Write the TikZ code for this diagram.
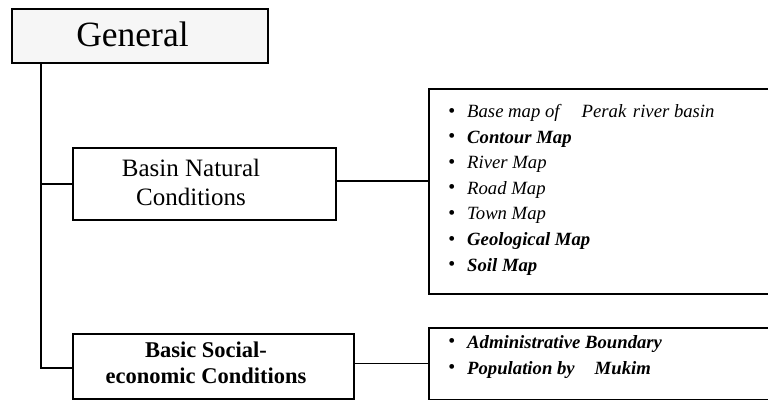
\documentclass[tikz,border=0pt]{standalone}
\usepackage{fontspec}
\setmainfont{Liberation Serif}
\newcommand{\bul}{\makebox[19pt][l]{\fontsize{20}{20}\selectfont\raisebox{0.5pt}{•}}}
\begin{document}
\begin{tikzpicture}[x=1pt,y=-1pt,
  box/.style={draw, line width=1.7pt, rectangle, inner sep=0pt, anchor=north west},
  conn/.style={line width=1.7pt},
  lbl/.style={inner sep=0pt, align=center},
  item/.style={inner sep=0pt, anchor=base west, font=\fontsize{18.7}{22}\selectfont\itshape}
]
\useasboundingbox (0,0) rectangle (768,400);
\clip (0,0) rectangle (768,400);
% boxes
\node[box, fill=gray!7, minimum width=256pt, minimum height=54pt] (general) at (11,8) {};
\node[box, minimum width=263pt, minimum height=72pt] (basin) at (72,147) {};
\node[box, minimum width=281pt, minimum height=65pt] (social) at (72,333) {};
\node[box, minimum width=370pt, minimum height=205pt] (maps) at (428,88) {};
\node[box, minimum width=370pt, minimum height=71.5pt] (pop) at (428,327) {};
% labels
\node[lbl, anchor=base, font=\fontsize{35.5}{36}\selectfont] (generalt) at (132.5,46) {General};
\node[lbl, font=\fontsize{25}{29}\selectfont] (basint) at (191,182) {Basin Natural\\Conditions};
\node[lbl, font=\bfseries\fontsize{22.5}{26}\selectfont] (socialt) at (206,362.3) {Basic Social-\\economic Conditions};
% list items
\foreach \t [count=\i] in {{Base map of\hspace{22pt}Perak\hspace{2pt} river basin},
  {\bfseries Contour Map},{River Map},{Road Map},{Town Map},
  {\bfseries Geological Map},{\bfseries Soil Map}}
  \node[item] (m\i) at (448,117.5+25.6*\i-25.6) {\bul\t};
\node[item] (p1) at (448,348) {\bul\bfseries Administrative Boundary};
\node[item] (p2) at (448,374) {\bul\bfseries Population by\hspace{20pt}Mukim};
% connectors
\coordinate (ttop) at (41,62);
\coordinate (tbot) at (41,368);
\draw[conn] (ttop) -- (tbot) -- (social.west |- tbot);
\draw[conn] (ttop |- basin.west) -- (basin.west);
\draw[conn] (basin.east) ++(0,-3) coordinate (be) -- (maps.west |- be);
\draw[conn] (social.east) ++(0,-3) coordinate (se) -- (pop.west |- se);
\end{tikzpicture}
\end{document}
